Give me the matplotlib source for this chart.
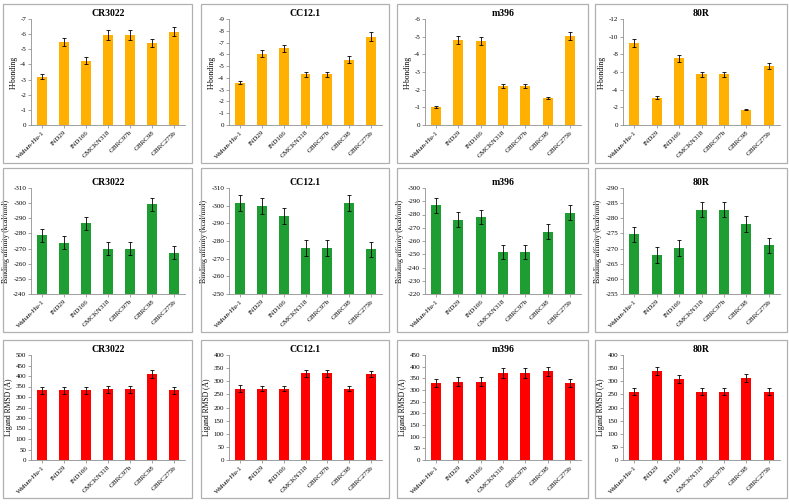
import numpy as np
import matplotlib
matplotlib.use('Agg')
from matplotlib import pyplot as plt
from matplotlib.patches import Rectangle

plt.rcParams['font.family'] = ['Liberation Serif', 'DejaVu Serif']
plt.rcParams['axes.unicode_minus'] = False

####################### data
variants = ['Wuhan-Hu-1', 'IND29', 'IND166', 'GMCKN318', 'GBRC97b', 'GBRC98', 'GBRC275b']
antibodies = ['CR3022', 'CC12.1', 'm396', '80R']

# H-bonding
hb_cr3022 = [-3.2, -5.5, -4.25, -5.95, -5.95, -5.4, -6.15]
hb_cr3022_err = [0.15, 0.27, 0.22, 0.32, 0.32, 0.28, 0.3]
hb_cc121 = [-3.6, -6.05, -6.5, -4.3, -4.3, -5.55, -7.5]
hb_cc121_err = [0.15, 0.3, 0.32, 0.2, 0.2, 0.27, 0.38]
hb_m396 = [-1.0, -4.8, -4.75, -2.2, -2.2, -1.55, -5.05]
hb_m396_err = [0.05, 0.22, 0.22, 0.1, 0.1, 0.06, 0.24]
hb_80r = [-9.3, -3.1, -7.55, -5.75, -5.75, -1.75, -6.65]
hb_80r_err = [0.45, 0.15, 0.4, 0.3, 0.3, 0.08, 0.33]

# binding affinity (kcal/mol)
ba_cr3022 = [-278.7, -273.8, -286.8, -269.8, -269.8, -299.3, -267.3]
ba_cr3022_err = [4.3, 4.3, 4.3, 4.3, 4.3, 4.3, 4.3]
ba_cc121 = [-301.6, -300.0, -293.9, -276.0, -276.0, -301.6, -275.2]
ba_cc121_err = [4.5, 4.5, 4.5, 4.5, 4.5, 4.5, 4.5]
ba_m396 = [-286.8, -276.2, -278.0, -251.8, -251.8, -267.0, -281.5]
ba_m396_err = [5.5, 5.5, 5.5, 5.5, 5.5, 5.5, 5.5]
ba_80r = [-274.7, -267.9, -270.2, -282.8, -282.8, -278.1, -271.1]
ba_80r_err = [2.5, 2.5, 2.5, 2.5, 2.5, 2.5, 2.5]

# ligand RMSD
rm_cr3022 = [332, 332, 332, 336, 336, 410, 332]
rm_cr3022_err = [17, 17, 16, 16, 16, 19, 17]
rm_cc121 = [272, 272, 272, 330, 330, 272, 327]
rm_cc121_err = [12, 11, 11, 12, 12, 11, 11]
rm_m396 = [331, 336, 336, 373, 373, 380, 331]
rm_m396_err = [18, 18, 18, 20, 20, 18, 16]
rm_80r = [260, 340, 309, 260, 260, 312, 260]
rm_80r_err = [14, 16, 15, 14, 14, 15, 13]

hb_data = [(hb_cr3022, hb_cr3022_err), (hb_cc121, hb_cc121_err), (hb_m396, hb_m396_err), (hb_80r, hb_80r_err)]
ba_data = [(ba_cr3022, ba_cr3022_err), (ba_cc121, ba_cc121_err), (ba_m396, ba_m396_err), (ba_80r, ba_80r_err)]
rm_data = [(rm_cr3022, rm_cr3022_err), (rm_cc121, rm_cc121_err), (rm_m396, rm_m396_err), (rm_80r, rm_80r_err)]

# axis ranges (base, top, step) per panel
hb_axis = [(0, -7, 1), (0, -9, 1), (0, -6, 1), (0, -12, 2)]
ba_axis = [(-240, -310, 10), (-250, -310, 10), (-220, -300, 10), (-255, -290, 5)]
rm_axis = [(0, 500, 50), (0, 400, 50), (0, 450, 50), (0, 400, 50)]

####################### layout (pixels)
W, H = 789, 504
cols = [(3, 192), (201, 389), (397, 588), (595, 787)]
rows = [(4, 163), (168, 332), (340, 498)]
top_off = [15, 20, 15]

fig = plt.figure(figsize=(W / 100, H / 100), dpi=100)

def panel(r, c, vals, errs, axis, color, ylab):
    bx0, bx1 = cols[c]
    by0, by1 = rows[r]
    fig.patches.append(Rectangle((bx0 / W, 1 - by1 / H), (bx1 - bx0) / W, (by1 - by0) / H,
                                 transform=fig.transFigure, fill=False, edgecolor='#b0b0b0', lw=0.9))
    left = bx0 + 28
    right = bx1 - 7
    top = by0 + top_off[r]
    bottom = by1 - 38
    ax = fig.add_axes([left / W, 1 - bottom / H, (right - left) / W, (bottom - top) / H])
    base, lim, step = axis
    x = np.arange(len(variants))
    heights = [v - base for v in vals]
    ax.bar(x, heights, bottom=base, width=0.45, color=color, zorder=2)
    ax.errorbar(x, vals, yerr=errs, fmt='none', ecolor='black', elinewidth=0.6, capsize=1.6, capthick=0.6, zorder=3)
    ax.set_xlim(-0.5, len(variants) - 0.5)
    ax.set_ylim(base, lim)
    if lim > base:
        ticks = np.arange(base, lim + step / 2, step)
    else:
        ticks = np.arange(base, lim - step / 2, -step)
    ax.set_yticks(ticks)
    ax.set_yticklabels(['%d' % t for t in ticks], fontsize=5)
    ax.set_xticks(x)
    ax.set_xticklabels(variants, rotation=45, ha='right', rotation_mode='anchor', fontsize=5)
    ax.tick_params(axis='both', length=2, width=0.5, color='#808080', pad=1.5)
    for s in ['top', 'right']:
        ax.spines[s].set_visible(False)
    for s in ['left', 'bottom']:
        ax.spines[s].set_color('#909090')
        ax.spines[s].set_linewidth(0.6)
    ax.set_ylabel(ylab, fontsize=5.5, labelpad=2)
    ax.set_title(antibodies[c], fontsize=7, fontweight='bold', pad=2)
    return ax

for c in range(4):
    panel(0, c, hb_data[c][0], hb_data[c][1], hb_axis[c], '#ffb000', 'H-bonding')
    panel(1, c, ba_data[c][0], ba_data[c][1], ba_axis[c], '#1e9e32', 'Binding affinity (kcal/mol)')
    panel(2, c, rm_data[c][0], rm_data[c][1], rm_axis[c], '#ff0000', 'Ligand RMSD (Å)')

fig.savefig('out.png', dpi=100)
